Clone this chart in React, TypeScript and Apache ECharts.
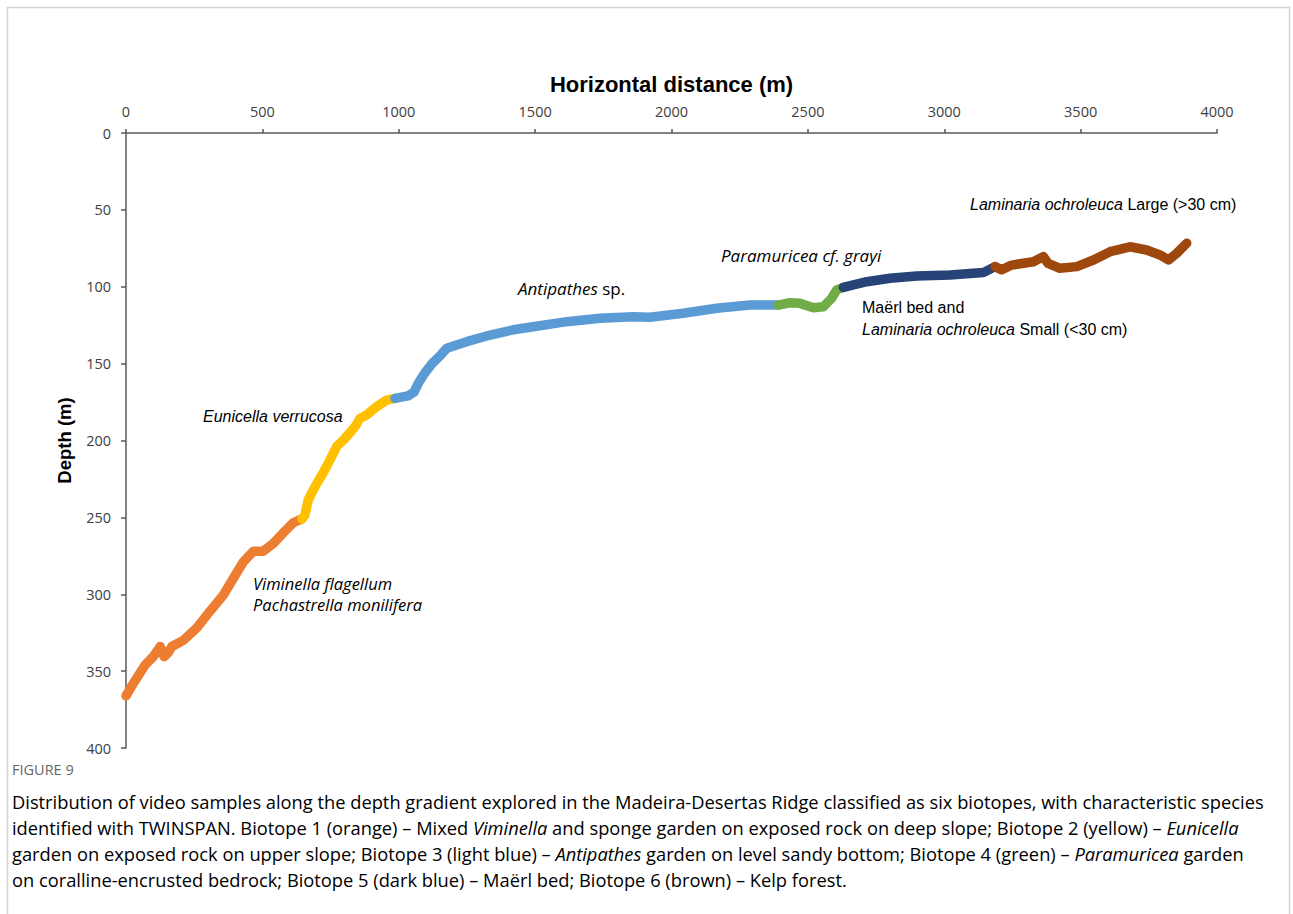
import React, { useEffect, useRef } from "react";
import * as echarts from "echarts";

const xTicks = [0, 500, 1000, 1500, 2000, 2500, 3000, 3500, 4000];
const yTicks = [0, 50, 100, 150, 200, 250, 300, 350, 400];

const biotope1Orange: [number, number][] = [
  [0, 366], [27, 358], [70, 346], [100, 340.6], [125, 334], [140, 340.6], [155, 338],
  [168, 334], [210, 330], [259, 322], [308, 311], [357, 300.5], [406, 286], [430, 279],
  [467, 272], [503, 272], [540, 267], [577, 260], [613, 253.5], [645, 251],
];
const biotope2Yellow: [number, number][] = [
  [645, 251], [656, 248.5], [668, 238.7], [693, 230], [723, 221], [748, 212.6], [772, 204],
  [803, 198.6], [840, 191], [858, 185.6], [882, 183.4], [919, 178], [956, 173.7], [986, 172.6],
];
const biotope3LightBlue: [number, number][] = [
  [986, 172.6], [1034, 171], [1056, 168.5], [1071, 163], [1093, 156.7], [1122, 150],
  [1151, 145], [1176, 140], [1249, 135.7], [1335, 131.4], [1420, 128], [1493, 126],
  [1616, 122.7], [1738, 120.5], [1860, 119.5], [1921, 119.8], [2043, 117.2], [2166, 114],
  [2288, 111.9], [2392, 111.9],
];
const biotope4Green: [number, number][] = [
  [2392, 111.9], [2434, 110.4], [2471, 110.8], [2520, 113.6], [2557, 113], [2587, 107.5],
  [2606, 102], [2630, 100.4],
];
const biotope5DarkBlue: [number, number][] = [
  [2630, 100.4], [2716, 96.7], [2801, 94.5], [2899, 93], [3021, 92.4], [3143, 90.8], [3186, 86.9],
];
const biotope6Brown: [number, number][] = [
  [3186, 86.9], [3211, 89], [3247, 85.9], [3327, 83.7], [3363, 80.4], [3381, 84.8], [3424, 88],
  [3486, 86.9], [3547, 82.6], [3608, 77.2], [3681, 74], [3742, 76.1], [3791, 79.3],
  [3822, 82.6], [3852, 78.3], [3889, 71.7],
];

const seriesDefs = [
  { name: "Biotope 1", data: biotope1Orange, color: "#ED7D31" },
  { name: "Biotope 2", data: biotope2Yellow, color: "#FFC000" },
  { name: "Biotope 3", data: biotope3LightBlue, color: "#5B9BD5" },
  { name: "Biotope 4", data: biotope4Green, color: "#70AD47" },
  { name: "Biotope 5", data: biotope5DarkBlue, color: "#264478" },
  { name: "Biotope 6", data: biotope6Brown, color: "#9E480E" },
];

const captionLines = [
  "{n|Distribution of video samples along the depth gradient explored in the Madeira-Desertas Ridge classified as six biotopes, with characteristic species}",
  "{n|identified with TWINSPAN. Biotope 1 (orange) – Mixed }{i|Viminella}{n| and sponge garden on exposed rock on deep slope; Biotope 2 (yellow) – }{i|Eunicella}",
  "{n|garden on exposed rock on upper slope; Biotope 3 (light blue) – }{i|Antipathes}{n| garden on level sandy bottom; Biotope 4 (green) – }{i|Paramuricea}{n| garden}",
  "{n|on coralline-encrusted bedrock; Biotope 5 (dark blue) – Maërl bed; Biotope 6 (brown) – Kelp forest.}",
];

export default function App() {
  const ref = useRef<HTMLDivElement>(null);
  useEffect(() => {
    if (!ref.current) return;
    const chart = echarts.init(ref.current, null, { renderer: "svg" });
    const axisColor = "#595959";
    const labelFont = "'Open Sans', sans-serif";
    const annArial = "'Liberation Sans', Arial, sans-serif";
    const annHum = "'Open Sans', sans-serif";
    const capFont = "'Open Sans', sans-serif";
    const capRich = {
      n: { fontFamily: capFont, fontSize: 18.3, color: "#5e5e5e" },
      i: { fontFamily: capFont, fontSize: 18.3, color: "#5e5e5e", fontStyle: "italic" },
    };
    chart.setOption({
      animation: false,
      backgroundColor: "#ffffff",
      grid: { left: 126, top: 133, right: 76, bottom: 166 },
      xAxis: {
        type: "value",
        position: "top",
        min: 0,
        max: 4000,
        interval: 500,
        name: "Horizontal distance (m)",
        nameLocation: "middle",
        nameGap: 38,
        nameTextStyle: { fontFamily: annArial, fontWeight: "bold", fontSize: 22, color: "#000" },
        axisLine: { show: true, onZero: false, lineStyle: { color: axisColor, width: 1.5 } },
        axisTick: { show: true, inside: false, length: 4, lineStyle: { color: axisColor, width: 1.5 } },
        axisLabel: {
          margin: 14,
          fontFamily: labelFont,
          fontSize: 14.5,
          color: "#404040",
          formatter: (v: number) => (xTicks.includes(v) ? String(v) : ""),
        },
        splitLine: { show: false },
      },
      yAxis: {
        type: "value",
        inverse: true,
        min: 0,
        max: 400,
        interval: 50,
        name: "Depth (m)",
        nameLocation: "middle",
        nameGap: 52,
        nameTextStyle: { fontFamily: annArial, fontWeight: "bold", fontSize: 18.5, color: "#000" },
        axisLine: { show: true, onZero: false, lineStyle: { color: axisColor, width: 1.5 } },
        axisTick: { show: true, inside: false, length: 5, lineStyle: { color: axisColor, width: 1.5 } },
        axisLabel: {
          margin: 15,
          fontFamily: labelFont,
          fontSize: 14.5,
          color: "#404040",
          formatter: (v: number) => (yTicks.includes(v) ? String(v) : ""),
        },
        splitLine: { show: false },
      },
      series: seriesDefs.map((s) => ({
        type: "line",
        name: s.name,
        data: s.data,
        showSymbol: false,
        symbol: "none",
        smooth: false,
        lineStyle: { color: s.color, width: 9.5, cap: "round", join: "round" },
        itemStyle: { color: s.color },
        z: 3,
      })),
      graphic: [
        {
          type: "rect",
          shape: { x: 7.5, y: 7.5, width: 1282, height: 1000 },
          style: { fill: "none", stroke: "#d4d4d4", lineWidth: 1.5 },
          silent: true,
        },
        {
          type: "text", left: 970, top: 196,
          style: {
            text: "{i|Laminaria ochroleuca}{n| Large (>30 cm)}",
            rich: {
              i: { fontFamily: annArial, fontSize: 16, fontStyle: "italic", fill: "#000" },
              n: { fontFamily: annArial, fontSize: 16, fill: "#000" },
            },
          },
        },
        {
          type: "text", left: 721, top: 247,
          style: { text: "Paramuricea cf. grayi", font: `italic 17px ${annHum}`, fill: "#000" },
        },
        {
          type: "text", left: 518, top: 280,
          style: {
            text: "{i|Antipathes}{n| sp.}",
            rich: {
              i: { fontFamily: annHum, fontSize: 17, fontStyle: "italic", fill: "#000" },
              n: { fontFamily: annHum, fontSize: 17, fill: "#000" },
            },
          },
        },
        {
          type: "text", left: 862, top: 299,
          style: { text: "Maërl bed and", font: `16px ${annArial}`, fill: "#000" },
        },
        {
          type: "text", left: 862, top: 321,
          style: {
            text: "{i|Laminaria ochroleuca}{n| Small (<30 cm)}",
            rich: {
              i: { fontFamily: annArial, fontSize: 16, fontStyle: "italic", fill: "#000" },
              n: { fontFamily: annArial, fontSize: 16, fill: "#000" },
            },
          },
        },
        {
          type: "text", left: 203, top: 408,
          style: { text: "Eunicella verrucosa", font: `italic 16px ${annArial}`, fill: "#000" },
        },
        {
          type: "text", left: 253, top: 575,
          style: { text: "Viminella flagellum", font: `italic 16.5px ${annHum}`, fill: "#000" },
        },
        {
          type: "text", left: 253, top: 596,
          style: { text: "Pachastrella monilifera", font: `italic 16.5px ${annHum}`, fill: "#000" },
        },
        {
          type: "text", left: 12, top: 762,
          style: { text: "FIGURE 9", font: `14.5px ${capFont}`, fill: "#666" },
        },
        ...captionLines.map((t, k) => ({
          type: "text",
          left: 12,
          top: 792 + k * 26,
          style: { text: t, rich: capRich },
        })),
      ],
    });
    return () => chart.dispose();
  }, []);
  return (
    <div
      ref={ref}
      style={{ position: "absolute", left: 0, top: 0, width: 1293, height: 914, background: "#fff" }}
    />
  );
}
